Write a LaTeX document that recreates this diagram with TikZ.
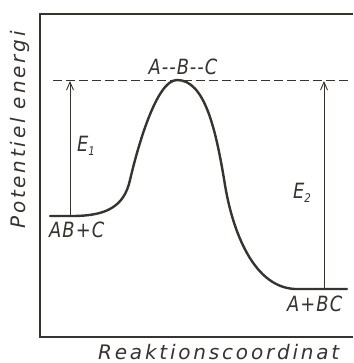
\documentclass[tikz,border=0pt]{standalone}
\usepackage{fontspec}
\usetikzlibrary{arrows.meta}
\newfontfamily\axfont{DejaVu Sans}[LetterSpace=14]
\newfontfamily\chemfont{DejaVu Sans}[LetterSpace=6]
\definecolor{ink}{RGB}{55,52,48}
\newcommand{\narrow}[1]{\scalebox{0.85}[1]{#1}}
\tikzset{
  frame/.style={draw=ink, line width=1.1pt},
  curve/.style={draw=ink, line width=2.4pt, line cap=round},
  level/.style={draw=ink, line width=0.9pt, dash pattern=on 9pt off 4pt},
  energyarrow/.style={draw=ink, line width=0.9pt, -{Straight Barb[length=8pt,width=7pt,line width=0.9pt]}},
  axlabel/.style={font=\axfont\itshape\fontsize{20}{22}\selectfont, text=ink, inner sep=0pt},
  chem/.style={font=\chemfont\itshape\fontsize{21}{23}\selectfont, text=ink, inner sep=0pt},
}
\begin{document}
\begin{tikzpicture}[x=1pt,y=-1pt]
\useasboundingbox (0,0) rectangle (353,363);
\fill[white] (0,0) rectangle (353,363);
% frame
\coordinate (tr) at (353,14);
\coordinate (tl) at (40,14);
\coordinate (bl) at (40,337);
\coordinate (br) at (353,337);
\draw[frame] (tr) -- (tl) -- (bl) -- (br);
% transition state level
\coordinate (dl) at (53,80);
\coordinate (dr) at (348,80);
\draw[level] (dl) -- (dr);
% curve
\coordinate (s0) at (50,216);
\coordinate (s1) at (72,216);
\coordinate (s2) at (130,180);
\coordinate (pk) at (177,80);
\coordinate (s3) at (225,185);
\coordinate (s4) at (295,289);
\coordinate (s5) at (347,289);
\draw[curve] (s0) -- (s1) .. controls (106,216) and (124,207) .. (s2)
  .. controls (137,150) and (156,80) .. (pk)
  .. controls (205,80) and (216,130) .. (s3)
  .. controls (231,222) and (250,287) .. (s4) -- (s5);
% arrows
\coordinate (a1b) at (70,216);
\coordinate (a1t) at (70,81);
\coordinate (a2b) at (324,289);
\coordinate (a2t) at (324,81);
\draw[energyarrow] (a1b) -- (a1t);
\draw[energyarrow] (a2b) -- (a2t);
% labels
\node[chem, anchor=center] (E1) at (86,146) {\narrow{E\raisebox{-0.35ex}{\fontsize{12}{13}\selectfont 1}}};
\node[chem, anchor=center] (E2) at (302,193) {\narrow{E\raisebox{-0.35ex}{\fontsize{12}{13}\selectfont 2}}};
\node[chem, anchor=base] (TS) at (183,75) {\narrow{A-{}-B-{}-C}};
\node[chem, anchor=base west] (R) at (49,237) {\narrow{AB+C}};
\node[chem, anchor=base west] (P) at (287,311) {\narrow{A+BC}};
\node[axlabel, anchor=base west] (xl) at (98,359) {Reaktionscoordinat};
\node[axlabel, anchor=base west, rotate=90] (yl) at (25,229) {Potentiel\hspace{0.45em}energi};
\end{tikzpicture}
\end{document}
